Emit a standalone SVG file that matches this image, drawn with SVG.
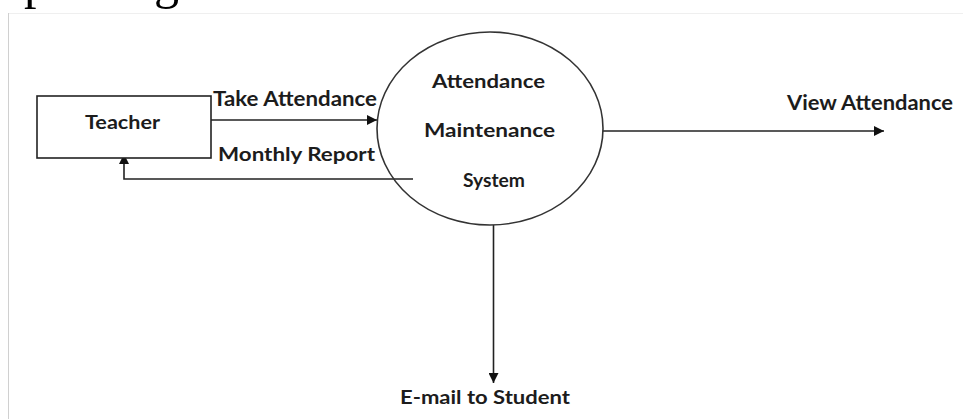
<svg xmlns="http://www.w3.org/2000/svg" width="963" height="419" viewBox="0 0 963 419">
  <style>
    .lbl { font-family: Lato, "Liberation Sans", sans-serif; font-weight: 700; fill: #1c1c1c; }
    .edge { stroke: #222; stroke-width: 1.6; fill: none; }
    .shape { stroke: #222; stroke-width: 1.6; fill: #fff; }
    .cut { font-family: "Liberation Serif", serif; font-size: 50px; fill: #000; }
  </style>
  <defs>
    <marker id="arrow" viewBox="0 0 10 10" refX="10" refY="5" markerWidth="10" markerHeight="10" markerUnits="userSpaceOnUse" orient="auto">
      <path d="M0,0 L10,5 L0,10 Z" fill="#111"/>
    </marker>
  </defs>
  <rect x="0" y="0" width="963" height="419" fill="#fff"/>
  <g id="page-fragment">
    <text class="cut" x="24" y="-2">p</text>
    <text class="cut" x="154" y="-2">g</text>
    <line x1="8" y1="13.5" x2="963" y2="13.5" stroke="#efefef" stroke-width="1"/>
    <line x1="8.5" y1="13" x2="8.5" y2="419" stroke="#d0d0d0" stroke-width="1"/>
  </g>
  <g id="connectors">
    <line class="edge" x1="211" y1="120" x2="377" y2="120" marker-end="url(#arrow)"/>
    <polyline class="edge" points="413,179 124,179 124,154" marker-end="url(#arrow)"/>
    <line class="edge" x1="603" y1="131" x2="884" y2="131" marker-end="url(#arrow)"/>
    <line class="edge" x1="493.5" y1="225" x2="493.5" y2="383" marker-end="url(#arrow)"/>
    <text class="lbl" x="213" y="106" font-size="20" textLength="164" lengthAdjust="spacingAndGlyphs">Take Attendance</text>
    <text class="lbl" x="218" y="161" font-size="19" textLength="157" lengthAdjust="spacingAndGlyphs">Monthly Report</text>
    <text class="lbl" x="787" y="110" font-size="20" textLength="166" lengthAdjust="spacingAndGlyphs">View Attendance</text>
    <text class="lbl" x="400" y="404" font-size="19" textLength="170" lengthAdjust="spacingAndGlyphs">E-mail to Student</text>
  </g>
  <g id="teacher">
    <rect class="shape" x="37" y="96" width="174" height="62"/>
    <text class="lbl" x="85" y="129" font-size="18" textLength="75" lengthAdjust="spacingAndGlyphs">Teacher</text>
  </g>
  <g id="system">
    <ellipse cx="490" cy="128.5" rx="113" ry="96.5" fill="none" stroke="#333" stroke-width="1.6"/>
    <text class="lbl" x="432" y="88" font-size="18" textLength="113" lengthAdjust="spacingAndGlyphs">Attendance</text>
    <text class="lbl" x="424" y="137" font-size="18" textLength="131" lengthAdjust="spacingAndGlyphs">Maintenance</text>
    <text class="lbl" x="463" y="187" font-size="18" textLength="62" lengthAdjust="spacingAndGlyphs">System</text>
  </g>
</svg>
